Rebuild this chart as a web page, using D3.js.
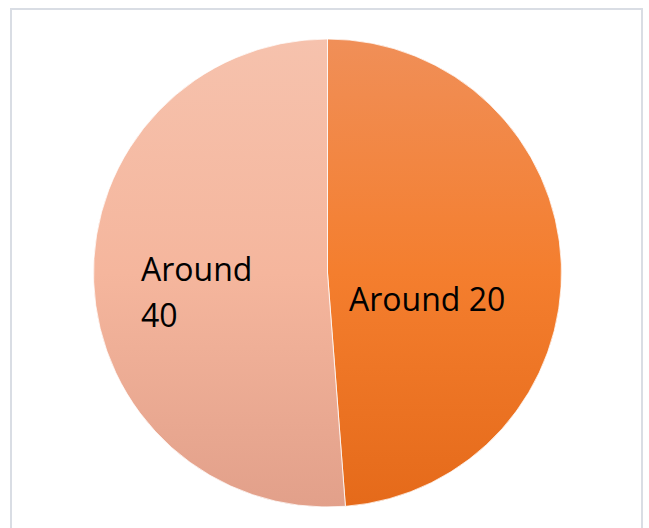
<!DOCTYPE html>
<html>
<head>
<meta charset="utf-8">
<script src="https://cdn.jsdelivr.net/npm/d3@7"></script>
<style>
html,body{margin:0;padding:0;background:#fff;}
svg{display:block;}
</style>
</head>
<body>
<svg id="chart" width="649" height="528"></svg>
<script>
const categories = ["Around 20", "Around 40"];
const values = [20, 21];
const labelLines = [["Around 20"], ["Around", "40"]];

const W = 649, H = 528;
const svg = d3.select("#chart");

// chart frame
svg.append("rect")
  .attr("x", 11).attr("y", 9)
  .attr("width", 631).attr("height", 540)
  .attr("fill", "#fff")
  .attr("stroke", "#D9DDE4")
  .attr("stroke-width", 2);

const cx = 327.5, cy = 273, r = 234;

const defs = svg.append("defs");
const gradStops = [
  [["0%", "#F08F58"], ["50%", "#F47E2E"], ["100%", "#E56A1A"]],
  [["0%", "#F6C2AD"], ["50%", "#F5B69D"], ["100%", "#E2A08A"]]
];
gradStops.forEach((stops, i) => {
  const g = defs.append("linearGradient")
    .attr("id", "grad" + i)
    .attr("gradientUnits", "userSpaceOnUse")
    .attr("x1", 0).attr("y1", -r)
    .attr("x2", 0).attr("y2", r);
  stops.forEach(s => g.append("stop").attr("offset", s[0]).attr("stop-color", s[1]));
});

const pie = d3.pie().sort(null).value(d => d)(values);
const arc = d3.arc().innerRadius(0).outerRadius(r);

const g = svg.append("g").attr("transform", `translate(${cx},${cy})`);
g.selectAll("path.slice")
  .data(pie)
  .join("path")
  .attr("class", "slice")
  .attr("d", arc)
  .attr("fill", (d, i) => `url(#grad${i})`)
  .attr("stroke", "#fff")
  .attr("stroke-width", 0.75);

// labels
const labelPos = [
  { x: 349, y: 311 },
  { x: 141, y: 281 }
];
const lineH = 46;
const fontFamily = "'Open Sans', Lato, sans-serif";
labelLines.forEach((lines, i) => {
  const t = svg.append("text")
    .attr("x", labelPos[i].x)
    .attr("y", labelPos[i].y)
    .attr("font-family", fontFamily)
    .attr("font-size", 32)
    .attr("fill", "#000");
  lines.forEach((ln, j) => {
    t.append("tspan")
      .attr("x", labelPos[i].x)
      .attr("dy", j === 0 ? 0 : lineH)
      .text(ln);
  });
});
</script>
</body>
</html>
